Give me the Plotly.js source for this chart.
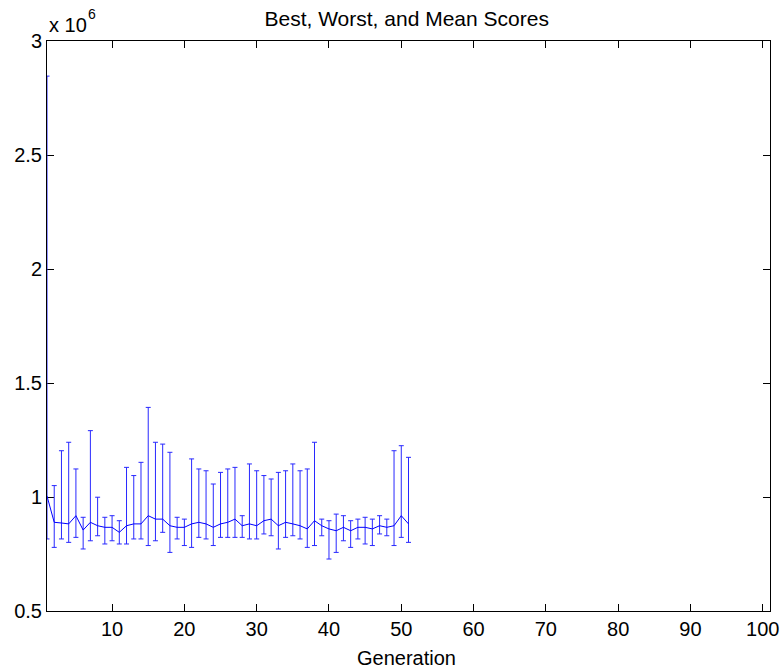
<!DOCTYPE html>
<html>
<head>
<meta charset="utf-8">
<script src="https://cdn.plot.ly/plotly-3.0.1.min.js"></script>
<style>html,body{margin:0;padding:0;background:#fff;}#chart{width:782px;height:670px;}</style>
</head>
<body>
<div id="chart"></div>
<script>
// Generation numbers
var generations = [1,2,3,4,5,6,7,8,9,10,11,12,13,14,15,16,17,18,19,20,21,22,23,24,25,26,27,28,29,30,31,32,33,34,35,36,37,38,39,40,41,42,43,44,45,46,47,48,49,50,51];
// Mean score per generation (x 10^6)
var meanScores = [1.004,0.889,0.886,0.882,0.918,0.855,0.889,0.874,0.867,0.867,0.845,0.874,0.882,0.882,0.918,0.903,0.903,0.874,0.867,0.867,0.882,0.889,0.882,0.867,0.882,0.889,0.903,0.874,0.882,0.874,0.896,0.903,0.874,0.889,0.882,0.874,0.860,0.896,0.874,0.860,0.852,0.867,0.852,0.867,0.867,0.860,0.874,0.867,0.874,0.918,0.882];
// Worst (highest) score per generation (x 10^6)
var worstScores = [2.846,1.050,1.203,1.240,1.123,0.911,1.291,0.999,0.911,0.918,0.896,1.130,1.094,1.152,1.393,1.240,1.232,1.196,0.911,0.903,1.167,1.123,1.115,1.057,1.108,1.123,1.130,0.918,1.145,1.115,1.094,1.079,1.108,1.115,1.145,1.115,1.123,1.240,0.903,0.896,0.925,0.918,0.896,0.903,0.911,0.903,0.918,0.903,1.203,1.225,1.174];
// Best (lowest) score per generation (x 10^6)
var bestScores = [0.816,0.779,0.816,0.801,0.823,0.772,0.808,0.830,0.794,0.808,0.794,0.794,0.816,0.816,0.787,0.808,0.845,0.757,0.816,0.787,0.779,0.823,0.816,0.787,0.823,0.823,0.823,0.823,0.816,0.816,0.838,0.830,0.772,0.823,0.830,0.816,0.779,0.787,0.830,0.728,0.757,0.808,0.779,0.816,0.794,0.787,0.838,0.830,0.787,0.823,0.801];
var yTickVals = [0.5,1,1.5,2,2.5,3];
var yTickText = ['0.5','1','1.5','2','2.5','3'];
var xTickVals = [10,20,30,40,50,60,70,80,90,100];
var scale = 1e6;

var meanY = meanScores.map(function(v){return v*scale;});
var plus = worstScores.map(function(v,i){return (v-meanScores[i])*scale;});
var minus = bestScores.map(function(v,i){return (meanScores[i]-v)*scale;});

var trace = {
  x: generations,
  y: meanY,
  type: 'scatter',
  mode: 'lines',
  line: {color: 'rgb(0,0,255)', width: 1},
  error_y: {
    type: 'data', symmetric: false,
    array: plus, arrayminus: minus,
    color: 'rgb(40,40,255)', thickness: 1, width: 2.5
  },
  hoverinfo: 'skip'
};

var font = 'Liberation Sans, Arial, sans-serif';
var layout = {
  width: 782, height: 670,
  margin: {l: 47, r: 12, t: 41, b: 59},
  paper_bgcolor: '#fff', plot_bgcolor: '#fff',
  showlegend: false,
  font: {family: font, size: 20, color: '#000'},
  title: {text: 'Best, Worst, and Mean Scores', font: {family: font, size: 21, color: '#000'},
          xref: 'paper', x: 0.4975, xanchor: 'center', yref: 'container', y: 0.9715, yanchor: 'middle'},
  xaxis: {
    range: [1, 101], tickvals: xTickVals, ticktext: xTickVals.map(String),
    ticks: 'inside', ticklen: 7, tickcolor: '#000', tickwidth: 1,
    showline: true, linecolor: '#000', linewidth: 1, mirror: 'ticks',
    showgrid: false, zeroline: false,
    tickfont: {family: font, size: 20, color: '#000'}
  },
  yaxis: {
    range: [0.5e6, 3e6], tickvals: yTickVals.map(function(v){return v*scale;}), ticktext: yTickText,
    ticks: 'inside', ticklen: 7, tickcolor: '#000', tickwidth: 1,
    showline: true, linecolor: '#000', linewidth: 1, mirror: 'ticks',
    showgrid: false, zeroline: false, layer: 'below traces',
    tickfont: {family: font, size: 20, color: '#000'}
  },
  annotations: [{
    xref: 'paper', yref: 'paper', x: 0, y: 1, xanchor: 'left', yanchor: 'bottom',
    text: 'x 10', showarrow: false, yshift: 3, xshift: 0,
    font: {family: font, size: 20, color: '#000'}
  }, {
    xref: 'paper', yref: 'paper', x: 0, y: 1, xanchor: 'left', yanchor: 'bottom',
    text: '6', showarrow: false, yshift: 17, xshift: 39,
    font: {family: font, size: 14, color: '#000'}
  }, {
    xref: 'paper', yref: 'paper', x: 0.4975, y: 0, xanchor: 'center', yanchor: 'top',
    text: 'Generation', showarrow: false, yshift: -34,
    font: {family: font, size: 20, color: '#000'}
  }]
};

Plotly.newPlot('chart', [trace], layout, {displayModeBar: false, staticPlot: true});
</script>
</body>
</html>
